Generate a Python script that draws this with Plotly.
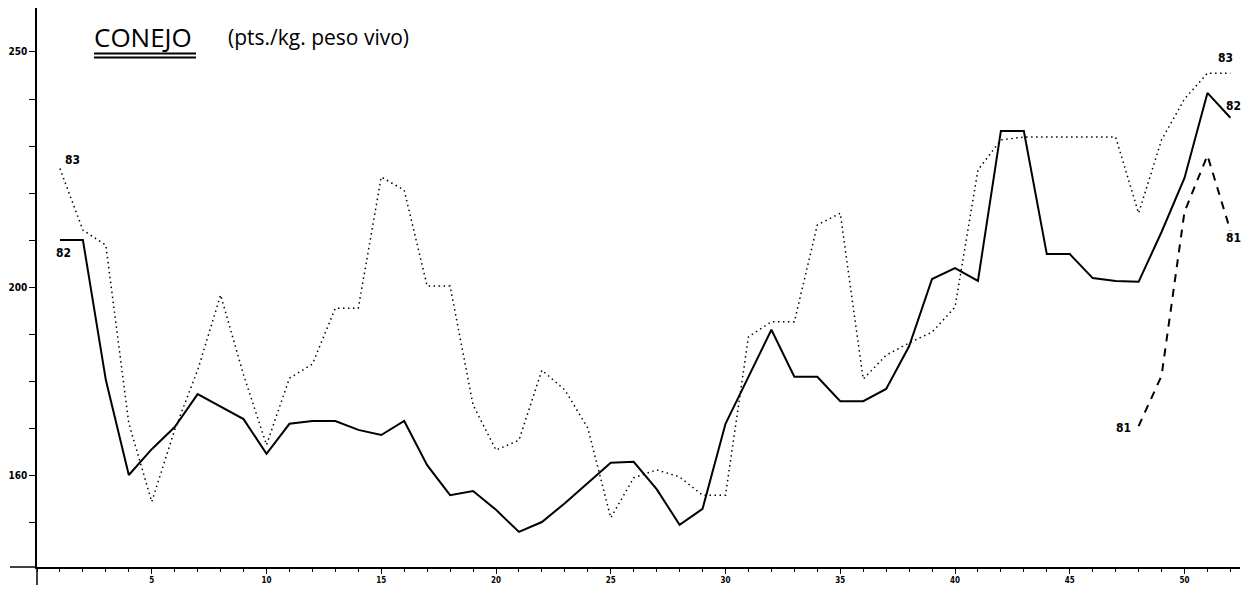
import plotly.graph_objects as go

# ---------------- data ----------------
weeks = list(range(1, 53))
s82 = [210, 210, 180.2, 160, 165.5, 170.2, 177.2, 174.5, 171.9, 164.5,
       170.9, 171.5, 171.5, 169.6, 168.5, 171.5, 162.1, 155.7, 156.6, 152.6,
       147.9, 150, 154, 158.3, 162.6, 162.8, 157, 149.4, 152.8, 170.9,
       180.9, 190.9, 180.9, 180.9, 175.7, 175.7, 178.3, 187.4, 201.7, 204,
       201.3, 233.2, 233.2, 207, 207, 201.9, 201.3, 201.1, 211.7, 223.2,
       241.3, 236]
s83 = [225.2, 212.1, 208.9, 171, 154.3, 169.6, 182.3, 198.3, 181.3, 166.4,
       180.6, 183.6, 195.5, 195.5, 223.4, 220.6, 200.2, 200.2, 174.9, 165.3,
       167.4, 182.3, 178.1, 170, 150.9, 159.4, 161.1, 159.6, 155.7, 155.7,
       189.4, 192.6, 192.6, 213.2, 215.7, 180.4, 185.5, 188.1, 190.4, 195.7,
       224.9, 231.3, 231.9, 231.9, 231.9, 231.9, 231.9, 215.7, 231.3, 240,
       245.5, 245.5]
weeks81 = [48, 49, 50, 51, 52]
s81 = [170.4, 181.1, 216, 228, 212]

x_tick_vals = [5, 10, 15, 20, 25, 30, 35, 40, 45, 50]
x_tick_text = ["5", "10", "15", "20", "25", "30", "35", "40", "45", "50"]
y_tick_vals = [140, 150, 160, 170, 180, 190, 200, 210, 220, 230, 240, 250]
y_tick_text = ["", "", "160", "", "", "", "200", "", "", "", "", "250"]

title_main = "CONEJO"
title_sub = "(pts./kg. peso vivo)"

# ---------------- layout geometry ----------------
OFF = 8                      # browser's default page margin
W, H = 1249 - 2 * OFF, 593 - 2 * OFF
ML, MT = 37 - OFF, 0
MB = H - (567 - OFF)         # x axis at screen y = 567
MR = 1
PW, PH = W - ML - MR, H - MT - MB
X_RANGE = [0, PW / 22.95]
Y_RANGE = [140.43, 259.36]


def px(xs):
    """screen x pixel -> paper fraction"""
    return (xs - OFF - ML) / PW


def py(ys):
    """screen y pixel -> paper fraction"""
    return (H - MB - (ys - OFF)) / PH


x_tick_font = dict(family="Liberation Sans Narrow, DejaVu Sans Condensed, Arial Narrow",
                   size=8, color="black", weight="bold")
y_tick_font = dict(family="Liberation Sans Narrow, DejaVu Sans Condensed, Arial Narrow",
                   size=10, color="black", weight="bold")
lab_font = dict(family="Liberation Sans Narrow, DejaVu Sans Condensed, Arial Narrow",
                size=12, color="black", weight="bold")

fig = go.Figure()
fig.add_trace(go.Scatter(x=weeks, y=s83, mode="lines", name="83",
                         line=dict(color="black", width=1.5, dash="1.5px,3.5px")))
fig.add_trace(go.Scatter(x=weeks, y=s82, mode="lines", name="82",
                         line=dict(color="black", width=2)))
fig.add_trace(go.Scatter(x=weeks81, y=s81, mode="lines", name="81",
                         line=dict(color="black", width=2, dash="8px,7px")))

fig.update_layout(
    width=W, height=H, autosize=False,
    margin=dict(l=ML, r=MR, t=MT, b=MB, autoexpand=False),
    paper_bgcolor="white", plot_bgcolor="white",
    showlegend=False,
    xaxis=dict(range=X_RANGE, showgrid=False, zeroline=False, automargin=False,
               showline=True, linecolor="black", linewidth=1.5,
               tickmode="array", tickvals=x_tick_vals, ticktext=x_tick_text,
               ticks="outside", ticklen=5, tickwidth=1.2, tickcolor="black",
               tickfont=x_tick_font, ticklabelstandoff=0,
               minor=dict(tick0=0, dtick=1, ticks="outside", ticklen=3,
                          tickwidth=1.2, tickcolor="black")),
    yaxis=dict(range=Y_RANGE, showgrid=False, zeroline=False, automargin=False,
               showline=True, linecolor="black", linewidth=1.5,
               tickmode="array", tickvals=y_tick_vals, ticktext=y_tick_text,
               ticks="outside", ticklen=6, tickwidth=1.2, tickcolor="black",
               tickfont=y_tick_font),
)

# axis extensions beyond the crossing point
fig.add_shape(type="line", xref="paper", yref="paper",
              x0=px(10), x1=0, y0=0, y1=0,
              line=dict(color="black", width=1.5))
fig.add_shape(type="line", xref="paper", yref="paper",
              x0=0, x1=0, y0=0, y1=py(585),
              line=dict(color="black", width=1.5))

# title
fig.add_annotation(text=title_main, xref="paper", yref="paper",
                   x=px(92), y=py(37.5), xanchor="left", yanchor="middle",
                   showarrow=False,
                   font=dict(family="Open Sans, DejaVu Sans", size=26, color="black"))
fig.add_annotation(text=title_sub, xref="paper", yref="paper",
                   x=px(226), y=py(37.5), xanchor="left", yanchor="middle",
                   showarrow=False,
                   font=dict(family="Open Sans, DejaVu Sans", size=21, color="black"))
for yy in [53.5, 57.5]:
    fig.add_shape(type="line", xref="paper", yref="paper",
                  x0=px(94), x1=px(196), y0=py(yy), y1=py(yy),
                  line=dict(color="black", width=2.2))

# series labels
labels = [("83", 72, 160), ("82", 63, 253), ("83", 1225, 58),
          ("82", 1233, 106), ("81", 1233, 238), ("81", 1123, 428)]
for t, lx, ly in labels:
    fig.add_annotation(text=t, xref="paper", yref="paper",
                       x=px(lx), y=py(ly), xanchor="center", yanchor="middle",
                       showarrow=False, font=lab_font)

fig.write_html("out.html")
